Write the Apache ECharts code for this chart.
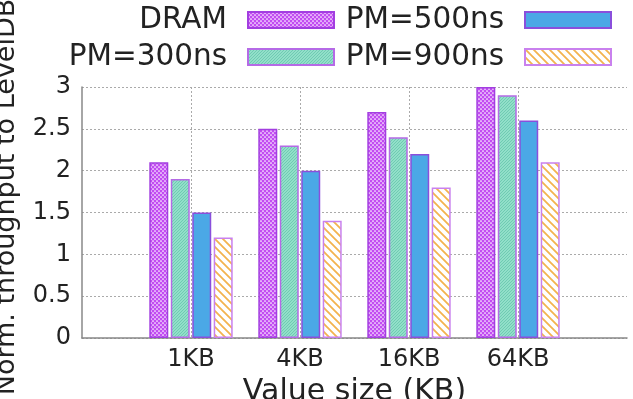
<!DOCTYPE html>
<html>
<head>
<meta charset="utf-8">
<script src="https://cdn.jsdelivr.net/npm/echarts@6/dist/echarts.min.js"></script>
<style>
  html, body { margin: 0; padding: 0; background: #fff; }
  #chart { width: 633px; height: 399px; }
</style>
</head>
<body>
<div id="chart"></div>
<script>
// value sizes and normalized throughput
var sizes = ['1KB', '4KB', '16KB', '64KB'];
var dram = [2.1, 2.5, 2.7, 3.0];
var pm300 = [1.9, 2.3, 2.4, 2.9];
var pm500 = [1.5, 2.0, 2.2, 2.6];
var pm900 = [1.2, 1.4, 1.8, 2.1];
var seriesNames = ['DRAM', 'PM=300ns', 'PM=500ns', 'PM=900ns'];
var yTicks = [0, 0.5, 1, 1.5, 2, 2.5, 3];

// gnuplot leaves one empty slot on each side of the groups
var xCats = [''].concat(sizes, ['']);
function pad(arr) {
    return ['-'].concat(arr, ['-']);
}

function makePattern(w, h, draw) {
    var c = document.createElement('canvas');
    c.width = w;
    c.height = h;
    draw(c.getContext('2d'));
    return { image: c, repeat: 'repeat' };
}

// checkered purple with white dots
var dramFill = makePattern(4, 4, function(ctx) {
    ctx.fillStyle = '#c24cf2';
    ctx.fillRect(0, 0, 4, 4);
    ctx.fillStyle = '#ffffff';
    ctx.beginPath(); ctx.arc(1, 1, 0.85, 0, Math.PI * 2); ctx.fill();
    ctx.beginPath(); ctx.arc(3, 3, 0.85, 0, Math.PI * 2); ctx.fill();
});

// fine teal texture
var pm300Fill = makePattern(3, 3, function(ctx) {
    ctx.fillStyle = '#92dfc9';
    ctx.fillRect(0, 0, 3, 3);
    ctx.fillStyle = '#6fcbb2';
    ctx.fillRect(0, 0, 1, 1);
    ctx.fillRect(2, 1, 1, 1);
    ctx.fillRect(1, 2, 1, 1);
});

// white with orange "\" stripes
var pm900Fill = makePattern(8, 8, function(ctx) {
    ctx.fillStyle = '#ffffff';
    ctx.fillRect(0, 0, 8, 8);
    ctx.strokeStyle = '#f3b34e';
    ctx.lineWidth = 1.8;
    ctx.beginPath();
    ctx.moveTo(-2, -2); ctx.lineTo(10, 10);
    ctx.moveTo(-2, 6); ctx.lineTo(2, 10);
    ctx.moveTo(6, -2); ctx.lineTo(10, 2);
    ctx.stroke();
});

var styles = [
    { color: dramFill, borderColor: '#a23ee0', borderWidth: 1.5 },
    { color: pm300Fill, borderColor: '#b56ae6', borderWidth: 1.5 },
    { color: '#4ba8e6', borderColor: '#8a4fdc', borderWidth: 1.5 },
    { color: pm900Fill, borderColor: '#c981ee', borderWidth: 1.5 }
];
var values = [dram, pm300, pm500, pm900];

var chart = echarts.init(document.getElementById('chart'));

var series = seriesNames.map(function(name, i) {
    return {
        name: name,
        type: 'bar',
        barWidth: 19,
        barGap: '13%',
        itemStyle: styles[i],
        emphasis: { disabled: true },
        data: pad(values[i])
    };
});

// legend: two rows, text to the left of each swatch
var legendPos = [
    { right: 298, top: 5 },
    { right: 298, top: 42 },
    { right: 21, top: 5 },
    { right: 21, top: 42 }
];
var legends = seriesNames.map(function(name, i) {
    return {
        data: [name],
        right: legendPos[i].right,
        top: legendPos[i].top,
        orient: 'horizontal',
        align: 'right',
        padding: 0,
        icon: 'rect',
        itemWidth: 86,
        itemHeight: 16,
        selectedMode: false,
        textStyle: {
            fontFamily: 'DejaVu Sans',
            fontSize: 29.5,
            color: '#222',
            lineHeight: 30,
            padding: [0, 16, 0, 0]
        }
    };
});

var option = {
    animation: false,
    backgroundColor: '#fff',
    textStyle: { fontFamily: 'DejaVu Sans' },
    legend: legends,
    grid: {
        left: 82, right: 6, top: 87, bottom: 61,
        containLabel: false,
        outerBoundsMode: 'none'
    },
    xAxis: {
        type: 'category',
        data: xCats,
        boundaryGap: false,
        name: 'Value size (KB)',
        nameLocation: 'middle',
        nameGap: 32,
        nameTextStyle: { fontSize: 30, color: '#222' },
        axisLine: { lineStyle: { color: '#888', width: 1.5 } },
        axisTick: { show: false },
        axisLabel: { fontSize: 24, color: '#222', margin: 10, interval: 0 },
        splitLine: {
            show: true,
            interval: function(index) { return index >= 1 && index <= sizes.length; },
            lineStyle: { color: '#aaa', type: [2, 2], width: 1 }
        }
    },
    yAxis: {
        type: 'value',
        min: yTicks[0],
        max: yTicks[yTicks.length - 1],
        interval: yTicks[1] - yTicks[0],
        name: 'Norm. throughput to LevelDB',
        nameLocation: 'middle',
        nameGap: 62,
        nameTextStyle: { fontSize: 27, color: '#222', padding: [0, 0, 0, 31] },
        axisLine: { show: true, lineStyle: { color: '#888', width: 1.5 } },
        axisTick: { show: false },
        axisLabel: { fontSize: 24, color: '#222', margin: 11 },
        splitLine: { lineStyle: { color: '#aaa', type: [2, 2], width: 1 } }
    },
    series: series
};

chart.setOption(option);
</script>
</body>
</html>
